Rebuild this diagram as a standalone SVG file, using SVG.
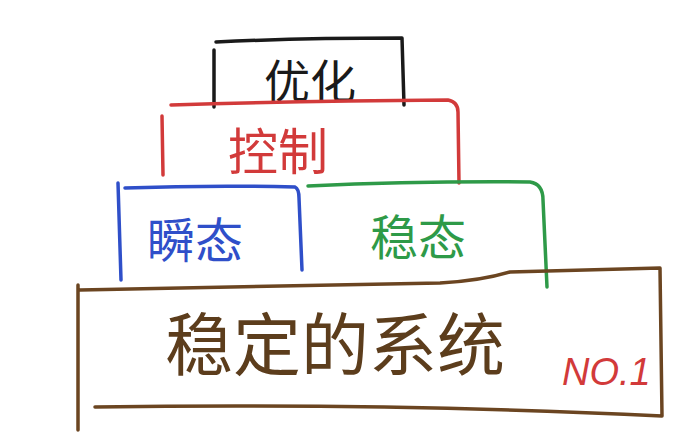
<svg xmlns="http://www.w3.org/2000/svg" width="696" height="444" viewBox="0 0 696 444">
<style>
.ln{fill:none;stroke-width:3.5;stroke-linecap:round;stroke-linejoin:round}
.t{font-family:"Noto Sans CJK SC","Noto Sans",sans-serif;text-anchor:middle}
</style>
<rect width="696" height="444" fill="#ffffff"/>
<g id="youhua">
<path class="ln" stroke="#1a1a1a" d="M214,50 L214,107 M216,42 Q300,38 402,38 L404,105"/>
<text class="t" x="310" y="98" font-size="46" fill="#1a1a1a">优化</text>
</g>
<g id="kongzhi">
<path class="ln" stroke="#d23a3a" d="M171,105 Q300,101 448,100 Q458,102 458,112 L459,183 M162,116 L163,175"/>
<text class="t" x="278" y="170" font-size="50" fill="#d23a3a">控制</text>
</g>
<g id="shuntai">
<path class="ln" stroke="#2f4fc9" d="M118,183 L121,280 M125,188 Q210,185 295,187 Q299,189 299,198 L302,270"/>
<text class="t" x="195" y="258" font-size="48" fill="#2f4fc9">瞬态</text>
</g>
<g id="wentai">
<path class="ln" stroke="#2e9a48" d="M308,186 Q420,181 530,182 Q543,184 543,200 L547,287"/>
<text class="t" x="418" y="255" font-size="48" fill="#2e9a48">稳态</text>
</g>
<g id="system">
<path class="ln" stroke="#6b4521" d="M78,285 L78,430 M80,290 Q300,286 440,283 Q480,281 510,272 L660,268 L662,416 M95,407 Q400,403 662,416"/>
<text class="t" x="335" y="370" font-size="68" fill="#5c3d1c">稳定的系统</text>
<text x="562" y="385" font-family="'Liberation Sans',sans-serif" font-size="38" font-style="italic" fill="#d23a3a">NO.1</text>
</g>
</svg>
